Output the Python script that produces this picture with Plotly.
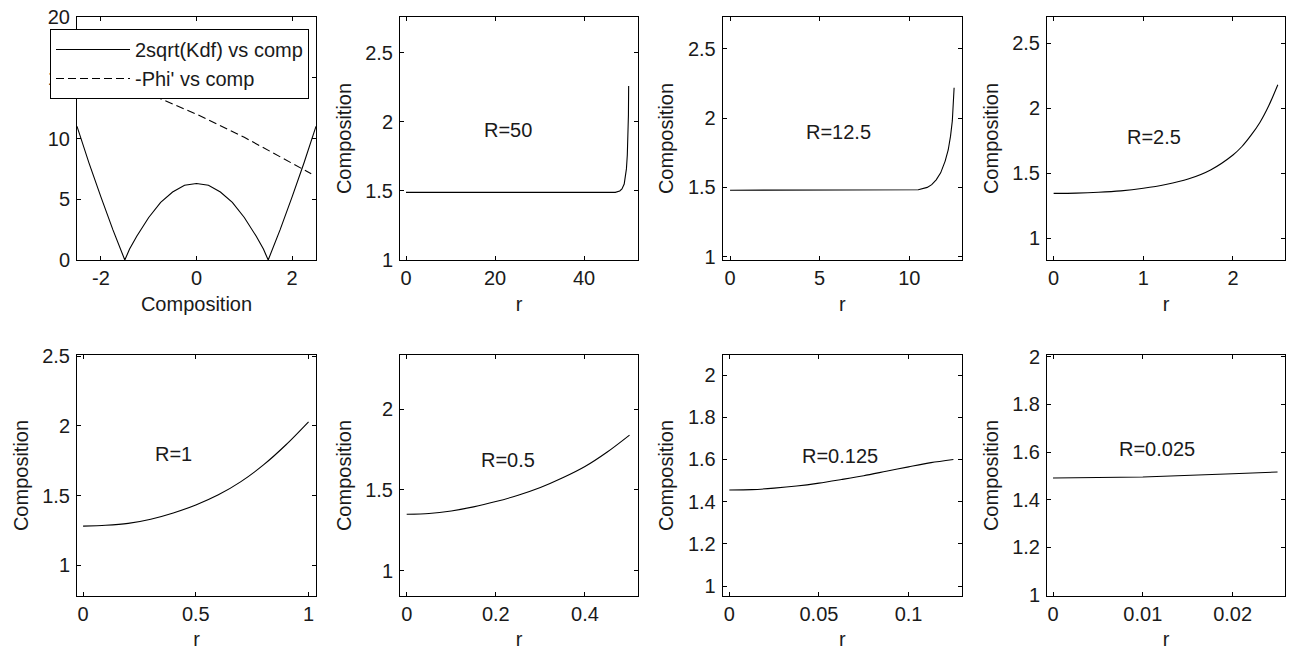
import plotly.graph_objects as go

W, H = 1295, 650

# ---- data ----
comp_x = [-2.5, -2.25, -2.0, -1.75, -1.5, -1.4, -1.25, -1.0, -0.75, -0.5, -0.25, 0.0,
          0.25, 0.5, 0.75, 1.0, 1.25, 1.4, 1.5, 1.75, 2.0, 2.25, 2.5]
kdf_y = [11.0, 8.0, 5.2, 2.5, 0.0, 0.9, 1.95, 3.5, 4.75, 5.6, 6.15, 6.3,
         6.15, 5.6, 4.75, 3.5, 1.95, 0.9, 0.0, 2.5, 5.2, 8.0, 11.0]
phi_x = [-2.5, -1.5, -1.0, 0.0, 1.0, 2.0, 2.4]
phi_y = [16.2, 14.6, 13.7, 12.0, 10.1, 8.0, 7.1]
comp_tickvals = [-2, 0, 2]
comp_ticktext = ["-2", "0", "2"]

r50 = [0, 10, 20, 30, 40, 47, 48, 48.5, 49, 49.3, 49.5, 49.7, 49.85, 49.95, 50]
c50 = [1.49, 1.49, 1.49, 1.49, 1.49, 1.49, 1.50, 1.515, 1.55, 1.60, 1.66, 1.76, 1.90, 2.05, 2.26]

r125 = [0, 5, 10, 10.5, 11, 11.25, 11.5, 11.75, 12, 12.17, 12.3, 12.4, 12.5]
c125 = [1.48, 1.48, 1.48, 1.483, 1.50, 1.52, 1.555, 1.605, 1.69, 1.77, 1.87, 1.98, 2.22]

r25 = [0, 0.25, 0.5, 0.75, 1.0, 1.25, 1.5, 1.75, 2.0, 2.1, 2.2, 2.3, 2.4, 2.5]
c25 = [1.345, 1.347, 1.353, 1.364, 1.384, 1.413, 1.455, 1.525, 1.64, 1.705, 1.79, 1.89, 2.02, 2.18]

r1 = [0, 0.1, 0.2, 0.3, 0.4, 0.5, 0.6, 0.7, 0.8, 0.9, 1.0]
c1 = [1.28, 1.286, 1.30, 1.33, 1.375, 1.432, 1.505, 1.60, 1.72, 1.865, 2.03]

r05 = [0, 0.05, 0.1, 0.15, 0.2, 0.25, 0.3, 0.35, 0.4, 0.45, 0.5]
c05 = [1.349, 1.354, 1.37, 1.395, 1.428, 1.467, 1.515, 1.575, 1.645, 1.735, 1.84]

r0125 = [0, 0.0125, 0.025, 0.0375, 0.05, 0.0625, 0.075, 0.0875, 0.1, 0.1125, 0.125]
c0125 = [1.455, 1.457, 1.464, 1.474, 1.488, 1.505, 1.523, 1.544, 1.565, 1.585, 1.60]

r0025 = [0, 0.01, 0.02, 0.025]
c0025 = [1.491, 1.495, 1.509, 1.516]

labels = ["R=50", "R=12.5", "R=2.5", "R=1", "R=0.5", "R=0.125", "R=0.025"]
label_pos = [(22.9, 1.94), (6.05, 1.90), (1.115, 1.78), (0.40, 1.80),
             (0.228, 1.686), (0.0618, 1.616), (0.01153, 1.614)]

# ---- layout geometry (pixels) ----
cols = [(77, 316), (400, 638), (722.7, 962), (1047, 1285)]
rows = [(17, 260), (355, 596)]

xranges = [[-2.5, 2.5], [-1.35, 52.1], [-0.41, 12.94], [-0.074, 2.58],
           [-0.027, 1.033], [-0.015, 0.519], [-0.0037, 0.1298], [-0.00067, 0.02583]]
yranges = [[0, 20], [1, 2.76], [0.976, 2.73], [0.833, 2.70],
           [0.778, 2.51], [0.843, 2.336], [0.953, 2.095], [0.996, 2.007]]
xdt = [2, 20, 5, 1, 0.5, 0.2, 0.05, 0.01]
ydt = [5, 0.5, 0.5, 0.5, 0.5, 0.5, 0.2, 0.2]

FONT = "Liberation Sans, Arial, Helvetica, sans-serif"
FS = 20
TXT = "#1a1a1a"

fig = go.Figure()

series = [(r50, c50), (r125, c125), (r25, c25), (r1, c1), (r05, c05), (r0125, c0125), (r0025, c0025)]
shapes_ = ["linear", "linear", "spline", "spline", "spline", "spline", "linear"]

# panel 1
fig.add_trace(go.Scatter(x=comp_x, y=kdf_y, mode="lines", name="2sqrt(Kdf) vs comp",
                         line=dict(color="black", width=1.1), xaxis="x", yaxis="y"))
fig.add_trace(go.Scatter(x=phi_x, y=phi_y, mode="lines", name="-Phi' vs comp",
                         line=dict(color="black", width=1.1, dash="8px,4px"), xaxis="x", yaxis="y"))

for i, (xs, ys) in enumerate(series):
    k = i + 2
    fig.add_trace(go.Scatter(x=xs, y=ys, mode="lines", showlegend=False,
                             line=dict(color="black", width=1.1, shape=shapes_[i], smoothing=0.8),
                             xaxis=f"x{k}", yaxis=f"y{k}"))

layout = dict(
    width=W, height=H, margin=dict(l=0, r=0, t=0, b=0),
    paper_bgcolor="white", plot_bgcolor="white",
    font=dict(family=FONT, size=FS, color=TXT),
    showlegend=True,
    legend=dict(x=50 / W, y=1 - 29 / H, xanchor="left", yanchor="top",
                bgcolor="white", bordercolor="black", borderwidth=1,
                font=dict(family=FONT, size=FS, color=TXT), itemwidth=74,
                tracegroupgap=0),
)

annotations = []
for idx in range(8):
    ci = idx % 4
    ri = idx // 4
    x0, x1 = cols[ci]
    y0, y1 = rows[ri]
    sfx = "" if idx == 0 else str(idx + 1)
    ax_common = dict(showgrid=False, zeroline=False, showline=True, linecolor="black",
                     linewidth=1, mirror="ticks", ticks="inside", ticklen=4,
                     tickcolor="black", automargin=False,
                     tickfont=dict(family=FONT, size=FS, color=TXT))
    xt = "Composition" if idx == 0 else "r"
    xax = dict(ax_common, domain=[x0 / W, x1 / W], range=xranges[idx],
               dtick=xdt[idx], tick0=0, anchor="y" + sfx,
               ticklabelstandoff=0,
               title=dict(text=xt, standoff=8, font=dict(family=FONT, size=FS, color=TXT)))
    if idx == 0:
        xax["tickmode"] = "array"
        xax["tickvals"] = comp_tickvals
        xax["ticktext"] = comp_ticktext
    layout["xaxis" + sfx] = xax
    yax = dict(ax_common, domain=[1 - y1 / H, 1 - y0 / H], range=yranges[idx],
               dtick=ydt[idx], tick0=0, anchor="x" + sfx, ticklabelstandoff=2)
    if idx > 0:
        yax["title"] = dict(text="Composition", standoff=8, font=dict(family=FONT, size=FS, color=TXT))
    layout["yaxis" + sfx] = yax
    if idx > 0:
        lx, ly = label_pos[idx - 1]
        annotations.append(dict(text=labels[idx - 1], x=lx, y=ly, xref="x" + sfx, yref="y" + sfx,
                                showarrow=False, font=dict(family=FONT, size=FS, color=TXT),
                                xanchor="center", yanchor="middle"))

layout["annotations"] = annotations
fig.update_layout(**layout)
fig.write_html("out.html")
